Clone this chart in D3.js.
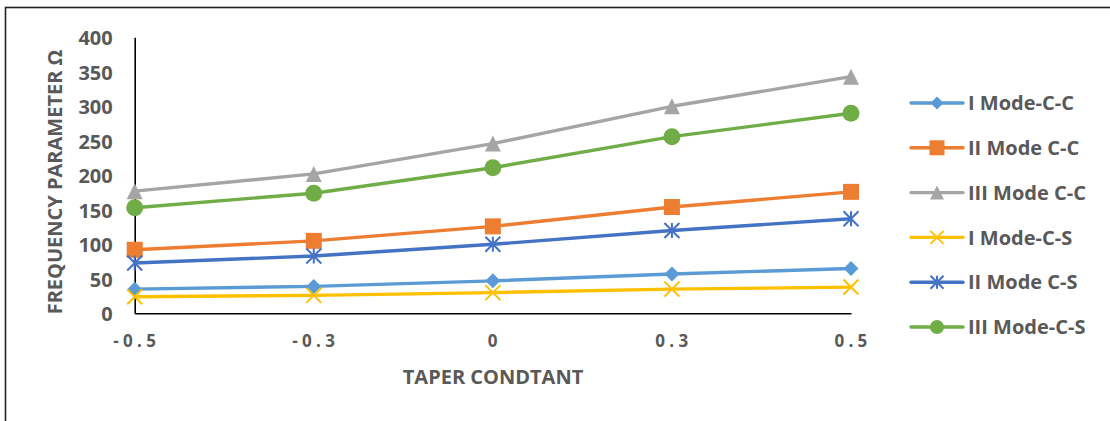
<!DOCTYPE html>
<html>
<head>
<meta charset="utf-8">
<script src="https://cdn.jsdelivr.net/npm/d3@7"></script>
<style>
  html, body { margin: 0; padding: 0; background: #fff; }
  svg { display: block; }
  text { font-family: "Open Sans", Lato, sans-serif; font-weight: bold; fill: #595959; }
</style>
</head>
<body>
<svg id="chart" width="1110" height="421"></svg>
<script>
// Taper constant categories along the x axis
const categories = ["-0.5", "-0.3", "0", "0.3", "0.5"];

// Frequency parameter values for each mode / boundary condition
const modeI_CC   = [35, 39, 47, 57, 65];
const modeII_CC  = [92, 105, 126, 154, 176];
const modeIII_CC = [177, 202, 246, 300, 343];
const modeI_CS   = [24, 26, 30, 35, 38];
const modeII_CS  = [73, 83, 100, 120, 137];
const modeIII_CS = [153, 174, 211, 256, 290];

const seriesNames = ["I Mode-C-C", "II Mode C-C", "III Mode C-C", "I Mode-C-S", "II Mode C-S", "III Mode-C-S"];
const yTicks = [0, 50, 100, 150, 200, 250, 300, 350, 400];

const series = [
  { name: seriesNames[0], values: modeI_CC,   color: "#5B9BD5", marker: "diamond" },
  { name: seriesNames[1], values: modeII_CC,  color: "#ED7D31", marker: "square" },
  { name: seriesNames[2], values: modeIII_CC, color: "#A5A5A5", marker: "triangle" },
  { name: seriesNames[3], values: modeI_CS,   color: "#FFC000", marker: "x" },
  { name: seriesNames[4], values: modeII_CS,  color: "#4472C4", marker: "star" },
  { name: seriesNames[5], values: modeIII_CS, color: "#70AD47", marker: "circle" }
];

const svg = d3.select("#chart");

// Outer chart frame
svg.append("rect")
  .attr("x", 5.5).attr("y", 7.5)
  .attr("width", 1200).attr("height", 600)
  .attr("fill", "none").attr("stroke", "#222").attr("stroke-width", 1.6);

const x = d3.scalePoint().domain(categories).range([134.7, 851]);
const y = d3.scaleLinear().domain([0, 400]).range([313.3, 37.3]);

// Y axis
const yAxis = svg.append("g")
  .attr("transform", "translate(134.7,0)")
  .call(d3.axisLeft(y).tickValues(yTicks).tickSize(0).tickSizeOuter(0).tickPadding(22));
yAxis.select(".domain").attr("stroke", "#000").attr("stroke-width", 1.6);
yAxis.selectAll("text")
  .attr("font-size", 20).attr("font-family", "'Open Sans', sans-serif").attr("fill", "#595959")
  .attr("dy", "0.36em");

// X axis
const xAxis = svg.append("g")
  .attr("transform", "translate(0,313.3)")
  .call(d3.axisBottom(x).tickSize(0).tickSizeOuter(0).tickPadding(0));
xAxis.select(".domain").attr("stroke", "#000").attr("stroke-width", 1.6);
xAxis.selectAll("text")
  .attr("font-size", 17).attr("font-family", "'Open Sans', sans-serif").attr("fill", "#595959")
  .attr("letter-spacing", "4.3px")
  .attr("y", 28).attr("dy", "0.36em").attr("dx", 1.5);

// Axis titles
svg.append("text")
  .attr("transform", "translate(55,182) rotate(-90)")
  .attr("text-anchor", "middle").attr("dy", "0.36em")
  .attr("font-family", "Lato, sans-serif")
  .attr("font-size", 20)
  .text("FREQUENCY PARAMETER Ω");

svg.append("text")
  .attr("x", 493).attr("y", 377)
  .attr("text-anchor", "middle").attr("dy", "0.36em")
  .attr("font-family", "Lato, sans-serif")
  .attr("font-size", 20)
  .text("TAPER CONDTANT");

// Marker drawing
function drawMarker(g, type, color, s) {
  const h = s / 2;
  if (type === "diamond") {
    g.append("path").attr("d", `M0,${-h}L${h},0L0,${h}L${-h},0Z`).attr("fill", color);
  } else if (type === "square") {
    g.append("rect").attr("x", -h).attr("y", -h).attr("width", s).attr("height", s).attr("fill", color);
  } else if (type === "triangle") {
    g.append("path").attr("d", `M0,${-h}L${h},${h}L${-h},${h}Z`).attr("fill", color);
  } else if (type === "circle") {
    g.append("circle").attr("r", h).attr("fill", color);
  } else if (type === "x") {
    g.append("path").attr("d", `M${-h},${-h}L${h},${h}M${-h},${h}L${h},${-h}`)
      .attr("stroke", color).attr("stroke-width", 2).attr("fill", "none");
  } else if (type === "star") {
    g.append("path").attr("d", `M0,${-h}L0,${h}M${-h},${-h}L${h},${h}M${-h},${h}L${h},${-h}`)
      .attr("stroke", color).attr("stroke-width", 2).attr("fill", "none");
  }
}

const markerSize = { diamond: 15, square: 16, triangle: 16, circle: 17, x: 15, star: 15 };
const legendMarkerSize = { diamond: 13, square: 15, triangle: 14, circle: 14, x: 13, star: 13 };

const line = d3.line()
  .x((d, i) => x(categories[i]))
  .y(d => y(d));

const plot = svg.append("g");
series.forEach(s => {
  plot.append("path")
    .datum(s.values)
    .attr("d", line)
    .attr("fill", "none")
    .attr("stroke", s.color)
    .attr("stroke-width", 3.4)
    .attr("stroke-linejoin", "round");
});
series.forEach(s => {
  s.values.forEach((v, i) => {
    const g = plot.append("g").attr("transform", `translate(${x(categories[i])},${y(v)})`);
    drawMarker(g, s.marker, s.color, markerSize[s.marker]);
  });
});

// Legend
const legend = svg.append("g");
series.forEach((s, i) => {
  const ly = 103 + i * 44.8;
  const g = legend.append("g").attr("transform", `translate(0,${ly})`);
  g.append("line")
    .attr("x1", 911).attr("x2", 963).attr("y1", 0).attr("y2", 0)
    .attr("stroke", s.color).attr("stroke-width", 3.4).attr("stroke-linecap", "round");
  const m = g.append("g").attr("transform", "translate(937,0)");
  drawMarker(m, s.marker, s.color, legendMarkerSize[s.marker]);
  g.append("text")
    .attr("x", 968).attr("y", 0).attr("dy", "0.36em")
    .attr("font-size", 20)
    .text(s.name);
});
</script>
</body>
</html>
